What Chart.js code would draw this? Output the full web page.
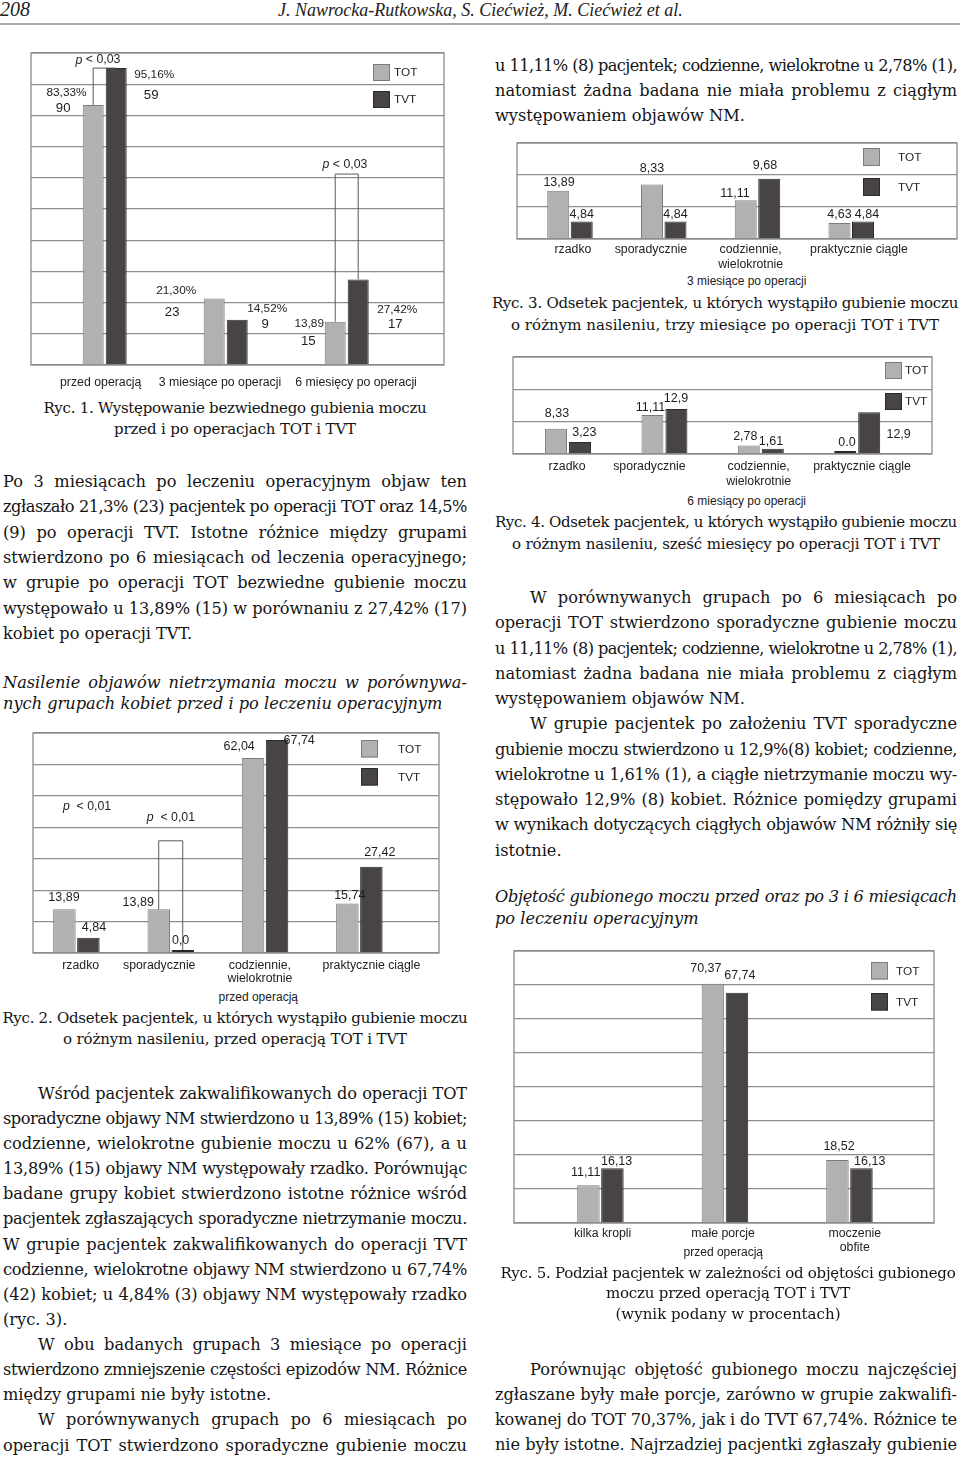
<!DOCTYPE html>
<html lang="pl">
<head>
<meta charset="utf-8">
<title>Ryc. 1-5</title>
<script src="https://cdn.jsdelivr.net/npm/chart.js@4.4.1/dist/chart.umd.min.js"></script>
<style>
body{margin:0;width:960px;height:1457px;position:relative;overflow:hidden;background:#fff;color:#141414}
.hdr{position:absolute;font-family:"Liberation Serif",serif;font-style:italic;line-height:20px;white-space:nowrap;color:#222}
.rule{position:absolute;left:0;top:23px;width:960px;height:2px;background:#a9a9a9}
.blk{position:absolute;font-family:"DejaVu Serif",serif;font-size:16.2px}
.blk div{box-sizing:border-box;white-space:normal}
.j{text-align:justify;text-align-last:justify}
.ind{padding-left:35px}
.it{font-style:italic}
.cap{position:absolute;font-family:"DejaVu Serif",serif;font-size:15px;text-align:center}
.sub{position:absolute;width:200px;text-align:center;font:12px/14px "Liberation Sans",Arial,sans-serif;color:#222;white-space:nowrap}
.cw{position:absolute}
</style>
</head>
<body>

<div class="hdr" style="left:0;top:-1px;font-size:20px">208</div>
<div class="hdr" style="left:278px;top:0;font-size:18px">J. Nawrocka-Rutkowska, S. Ciećwież, M. Ciećwież et al.</div>
<div class="rule"></div>

<div class="cw" id="w1"><canvas id="ryc1"></canvas></div>
<div class="cw" id="w3"><canvas id="ryc3"></canvas></div>
<div class="cw" id="w4"><canvas id="ryc4"></canvas></div>
<div class="cw" id="w2"><canvas id="ryc2"></canvas></div>
<div class="cw" id="w5"><canvas id="ryc5"></canvas></div>

<div class="sub" style="left:646.7px;top:273.7px">3 miesiące po operacji</div>
<div class="sub" style="left:646.7px;top:493.7px">6 miesiący po operacji</div>
<div class="sub" style="left:158.3px;top:989.7px">przed operacją</div>
<div class="sub" style="left:623.3px;top:1244.7px">przed operacją</div>

<!-- prawa kolumna, góra -->
<div class="blk" style="left:495px;top:52.5px;width:462px;line-height:25px">
  <div class="j">u 11,11% (8) pacjentek; codzienne, wielokrotne u 2,78% (1),</div>
  <div class="j">natomiast żadna badana nie miała problemu z ciągłym</div>
  <div>występowaniem objawów NM.</div>
</div>

<div class="cap" style="left:0;top:397.5px;width:470px;line-height:21.7px">
  <div data-w="383">Ryc. 1. Występowanie bezwiednego gubienia moczu</div>
  <div data-w="242">przed i po operacjach TOT i TVT</div>
</div>

<div class="cap" style="left:490px;top:292px;width:470px;line-height:22.3px">
  <div data-w="466">Ryc. 3. Odsetek pacjentek, u których wystąpiło gubienie moczu</div>
  <div data-w="428">o różnym nasileniu, trzy miesiące po operacji TOT i TVT</div>
</div>

<div class="cap" style="left:491px;top:511.3px;width:470px;line-height:22px">
  <div data-w="462">Ryc. 4. Odsetek pacjentek, u których wystąpiło gubienie moczu</div>
  <div data-w="428">o różnym nasileniu, sześć miesięcy po operacji TOT i TVT</div>
</div>

<div class="blk" style="left:3px;top:469.2px;width:464px;line-height:25.27px">
  <div class="j">Po 3 miesiącach po leczeniu operacyjnym objaw ten</div>
  <div class="j">zgłaszało 21,3% (23) pacjentek po operacji TOT oraz 14,5%</div>
  <div class="j">(9) po operacji TVT. Istotne różnice między grupami</div>
  <div class="j">stwierdzono po 6 miesiącach od leczenia operacyjnego;</div>
  <div class="j">w grupie po operacji TOT bezwiedne gubienie moczu</div>
  <div class="j">występowało u 13,89% (15) w porównaniu z 27,42% (17)</div>
  <div>kobiet po operacji TVT.</div>
</div>

<div class="blk it" style="left:3px;top:671.5px;width:464px;line-height:21px">
  <div class="j">Nasilenie objawów nietrzymania moczu w porównywa-</div>
  <div>nych grupach kobiet przed i po leczeniu operacyjnym</div>
</div>

<div class="blk" style="left:495px;top:585.2px;width:462px;line-height:25.23px">
  <div class="j ind">W porównywanych grupach po 6 miesiącach po</div>
  <div class="j">operacji TOT stwierdzono sporadyczne gubienie moczu</div>
  <div class="j">u 11,11% (8) pacjentek; codzienne, wielokrotne u 2,78% (1),</div>
  <div class="j">natomiast żadna badana nie miała problemu z ciągłym</div>
  <div>występowaniem objawów NM.</div>
  <div class="j ind">W grupie pacjentek po założeniu TVT sporadyczne</div>
  <div class="j">gubienie moczu stwierdzono u 12,9%(8) kobiet; codzienne,</div>
  <div class="j">wielokrotne u 1,61% (1), a ciągłe nietrzymanie moczu wy-</div>
  <div class="j">stępowało 12,9% (8) kobiet. Różnice pomiędzy grupami</div>
  <div class="j">w wynikach dotyczących ciągłych objawów NM różniły się</div>
  <div>istotnie.</div>
</div>

<div class="blk it" style="left:495px;top:886px;width:462px;line-height:22.3px">
  <div class="j">Objętość gubionego moczu przed oraz po 3 i 6 miesiącach</div>
  <div>po leczeniu operacyjnym</div>
</div>

<div class="cap" style="left:0;top:1008.3px;width:470px;line-height:21px">
  <div data-w="465">Ryc. 2. Odsetek pacjentek, u których wystąpiło gubienie moczu</div>
  <div data-w="344">o różnym nasileniu, przed operacją TOT i TVT</div>
</div>

<div class="blk" style="left:3px;top:1080.8px;width:464px;line-height:25.12px">
  <div class="j ind">Wśród pacjentek zakwalifikowanych do operacji TOT</div>
  <div class="j">sporadyczne objawy NM stwierdzono u 13,89% (15) kobiet;</div>
  <div class="j">codzienne, wielokrotne gubienie moczu u 62% (67), a u</div>
  <div class="j">13,89% (15) objawy NM występowały rzadko. Porównując</div>
  <div class="j">badane grupy kobiet stwierdzono istotne różnice wśród</div>
  <div class="j">pacjentek zgłaszających sporadyczne nietrzymanie moczu.</div>
  <div class="j">W grupie pacjentek zakwalifikowanych do operacji TVT</div>
  <div class="j">codzienne, wielokrotne objawy NM stwierdzono u 67,74%</div>
  <div class="j">(42) kobiet; u 4,84% (3) objawy NM występowały rzadko</div>
  <div>(ryc. 3).</div>
  <div class="j ind">W obu badanych grupach 3 miesiące po operacji</div>
  <div class="j">stwierdzono zmniejszenie częstości epizodów NM. Różnice</div>
  <div>między grupami nie były istotne.</div>
  <div class="j ind">W porównywanych grupach po 6 miesiącach po</div>
  <div class="j">operacji TOT stwierdzono sporadyczne gubienie moczu</div>
</div>

<div class="cap" style="left:493px;top:1262.5px;width:470px;line-height:20.5px">
  <div data-w="455">Ryc. 5. Podział pacjentek w zależności od objętości gubionego</div>
  <div data-w="244">moczu przed operacją TOT i TVT</div>
  <div data-w="225">(wynik podany w procentach)</div>
</div>

<div class="blk" style="left:495px;top:1356.8px;width:462px;line-height:25px">
  <div class="j ind">Porównując objętość gubionego moczu najczęściej</div>
  <div class="j">zgłaszane były małe porcje, zarówno w grupie zakwalifi-</div>
  <div class="j">kowanej do TOT 70,37%, jak i do TVT 67,74%. Różnice te</div>
  <div class="j">nie były istotne. Najrzadziej pacjentki zgłaszały gubienie</div>
</div>

<script>
// Ryc. 1 - bezwiedne gubienie moczu, % pacjentek
var r1Cats = ['przed operacją', '3 miesiące po operacji', '6 miesięcy po operacji'];
var r1Tot = [83.33, 21.30, 13.89];
var r1Tvt = [95.16, 14.52, 27.42];
var r1TotPct = ['83,33%', '21,30%', '13,89'];
var r1TotN = ['90', '23', '15'];
var r1TvtPct = ['95,16%', '14,52%', '27,42%'];
var r1TvtN = ['59', '9', '17'];

// Ryc. 2 - nasilenie przed operacja
var sevCats = ['rzadko', 'sporadycznie', ['codziennie,', 'wielokrotnie'], 'praktycznie ciągle'];
var r2Tot = [13.89, 13.89, 62.04, 15.74];
var r2Tvt = [4.84, 0, 67.74, 27.42];
var r2TotTxt = ['13,89', '13,89', '62,04', '15,74'];
var r2TvtTxt = ['4,84', '0,0', '67,74', '27,42'];

// Ryc. 3 - 3 miesiace po operacji (wysokosc slupkow jak na rysunku)
var r3Tot = [15.1, 17.0, 12.1, 5.0];
var r3Tvt = [5.5, 5.5, 18.8, 5.5];
var r3TotTxt = ['13,89', '8,33', '11,11', '4,63'];
var r3TvtTxt = ['4,84', '4,84', '9,68', '4,84'];

// Ryc. 4 - 6 miesiecy po operacji
var r4Tot = [7.8, 12.1, 2.6, 0];
var r4Tvt = [3.7, 13.9, 1.6, 12.9];
var r4TotTxt = ['8,33', '11,11', '2,78', '0.0'];
var r4TvtTxt = ['3,23', '12,9', '1,61', '12,9'];

// Ryc. 5 - objetosc gubionego moczu
var r5Cats = ['kilka kropli', 'małe porcje', ['moczenie', 'obfite']];
var r5Tot = [11.11, 70.37, 18.52];
var r5Tvt = [16.13, 67.74, 16.13];
var r5TotTxt = ['11,11', '70,37', '18,52'];
var r5TvtTxt = ['16,13', '67,74', '16,13'];

var FILL = ['#b1b1b1', '#484444'];
var LINE = ['#7b7b7b', '#2b2b2b'];
var FONT = '"Liberation Sans", Arial, sans-serif';

Chart.defaults.font.family = FONT;
Chart.defaults.color = '#222';

// layout of each figure (page px) + label placement
var figs = {
  ryc1: {
    cats: r1Cats, tot: r1Tot, tvt: r1Tvt, ymax: 100,
    box: [31, 53, 444, 365], xr: [-0.609, 2.804], bar: [21, 2], axisH: 30,
    tickY: 382.5, tickLH: 14, tickDx: [-4, -5.7, 9.3],
    labels: [
      {ds: 0, text: r1TotPct, size: 11.8, shift: [[-26.7, -12], [-38, -7.5], [-26, 2.3]]},
      {ds: 0, text: r1TotN, size: 13.2, shift: [[-30, 3], [-42, 13.5], [-27, 20]]},
      {ds: 1, text: r1TvtPct, size: 11.8, shift: [[38, 7], [30, -10.7], [39, 30.6]]},
      {ds: 1, text: r1TvtN, size: 13.2, shift: [[35, 27], [28, 4.3], [37, 44.6]]}
    ],
    legend: {x: 373, ys: [64, 91], tx: 394, h: 17},
    notes: [
      {i: 0, level: 95.16, text: ' < 0,03', dx: -6.7, dy: -8, bracket: true},
      {i: 2, level: 61.2, text: ' < 0,03', dx: -1.7, dy: -9, bracket: true}
    ]
  },
  ryc3: {
    cats: sevCats, tot: r3Tot, tvt: r3Tvt, ymax: 30,
    box: [517, 143, 957, 239], xr: [-0.565, 4.128], bar: [22, 1.5], axisH: 34,
    tickY: 249.5, tickLH: 15, tickDx: [3, -12.8, -6.8, 7.7],
    labels: [
      {ds: 0, text: r3TotTxt, shift: [[0.8, -8.3], [0, -15.6], [-10.8, -6.6], [0, -8.3]]},
      {ds: 1, text: r3TvtTxt, shift: [[0, -6.7], [0, -6.7], [-4.3, -13.1], [4, -6.7]]}
    ],
    legend: {x: 863, ys: [148, 178], tx: 898, h: 18},
    notes: []
  },
  ryc4: {
    cats: sevCats, tot: r4Tot, tvt: r4Tvt, ymax: 30,
    box: [513, 357, 932, 454], xr: [-0.571, 3.776], bar: [22, 2], axisH: 36,
    tickY: 466.2, tickLH: 15, tickDx: [-1, -15, -2.2, 4.8],
    labels: [
      {ds: 0, text: r4TotTxt, shift: [[1, -15.6], [-2, -7.2], [-3.5, -9.1], [1.8, -8.5]]},
      {ds: 1, text: r4TvtTxt, shift: [[4.3, -9.6], [-0.4, -10.8], [-1.8, -6.8], [29.4, 22]]}
    ],
    legend: {x: 885, ys: [362, 393], tx: 905, h: 17},
    notes: []
  },
  ryc2: {
    cats: sevCats, tot: r2Tot, tvt: r2Tvt, ymax: 70,
    box: [33, 733, 439, 953], xr: [-0.46, 3.844], bar: [22.5, 1.5], axisH: 36,
    tickY: 965.5, tickLH: 13.3, tickDx: [4.3, -11.5, -5.2, 12.1],
    labels: [
      {ds: 0, text: r2TotTxt, shift: [[-0.4, -12.2], [-20.5, -7.2], [-13.9, -11.8], [2.4, -8]]},
      {ds: 1, text: r2TvtTxt, shift: [[5.6, -10.3], [-2.1, -9.5], [22.1, 0.9], [8.4, -14.2]]}
    ],
    legend: {x: 361, ys: [740, 768], tx: 398, h: 17.5},
    notes: [
      {i: 0, level: 46.7, text: '  < 0,01', dx: 10.6, dy: 0, bracket: false},
      {i: 1, level: 35.7, text: '  < 0,01', dx: 0.2, dy: -23, bracket: true}
    ]
  },
  ryc5: {
    cats: r5Cats, tot: r5Tot, tvt: r5Tvt, ymax: 80,
    box: [514, 951, 934, 1223], xr: [-0.694, 2.679], bar: [22.5, 1.5], axisH: 34,
    tickY: 1233.5, tickLH: 14.3, tickDx: [2.2, -1.8, 5.3],
    labels: [
      {ds: 0, text: r5TotTxt, shift: [[-2.8, -12.8], [-7.1, -15.5], [1.6, -13.6]]},
      {ds: 1, text: r5TvtTxt, shift: [[4.2, -6.7], [2.9, -16.7], [8.3, -6.7]]}
    ],
    legend: {x: 871, ys: [962, 993], tx: 896, h: 17.5},
    notes: []
  }
};

function buildChart(id, c) {
  var PL = 40, PR = 20, PT = 10;
  var canvas = document.getElementById(id);
  var wrap = canvas.parentNode;
  var ox = c.box[0] - PL, oy = c.box[1] - PT;
  wrap.style.left = ox + 'px';
  wrap.style.top = oy + 'px';
  wrap.style.width = (c.box[2] - c.box[0] + PL + PR) + 'px';
  wrap.style.height = (c.box[3] - c.box[1] + PT + c.axisH) + 'px';

  // bar width from the pixel distance between two categories
  var spacing = (c.box[2] - c.box[0]) / (c.xr[1] - c.xr[0]);
  var chunk = c.bar[0] + c.bar[1];

  function ds(label, values, k) {
    return {
      label: label,
      data: values,
      backgroundColor: function (ctx) { return ctx.raw === 0 ? '#262626' : FILL[k]; },
      borderColor: function (ctx) { return ctx.raw === 0 ? '#262626' : LINE[k]; },
      borderWidth: 1,
      minBarLength: 3,
      categoryPercentage: 2 * chunk / spacing,
      barPercentage: c.bar[0] / chunk
    };
  }

  var extras = {
    id: 'extras',
    afterDraw: function (chart) {
      var ctx = chart.ctx, a = chart.chartArea, xs = chart.scales.x;
      ctx.save();
      // frame round the plot
      ctx.strokeStyle = '#8a8a8a';
      ctx.lineWidth = 1.3;
      ctx.strokeRect(a.left, a.top, a.right - a.left, a.bottom - a.top);

      // category names under each group
      ctx.fillStyle = '#222';
      ctx.textAlign = 'center';
      ctx.textBaseline = 'middle';
      ctx.font = '12.3px ' + FONT;
      c.cats.forEach(function (name, i) {
        var lines = [].concat(name);
        var x = xs.getPixelForValue(i) + c.tickDx[i];
        lines.forEach(function (t, k) {
          ctx.fillText(t, x, c.tickY - oy + k * c.tickLH);
        });
      });

      // value labels
      ctx.fillStyle = '#1e1e1e';
      c.labels.forEach(function (l) {
        var meta = chart.getDatasetMeta(l.ds);
        ctx.font = (l.size || 12.5) + 'px ' + FONT;
        l.text.forEach(function (t, j) {
          var bar = meta.data[j];
          var s = (l.shift && l.shift[j]) || [0, -8];
          ctx.fillText(t, bar.x + s[0], bar.y + s[1]);
        });
      });

      // legend
      var lg = c.legend;
      ctx.textAlign = 'left';
      ctx.font = '11.8px ' + FONT;
      chart.data.datasets.forEach(function (d, k) {
        var x = lg.x - ox, y = lg.ys[k] - oy;
        ctx.fillStyle = FILL[k];
        ctx.fillRect(x, y, 17, lg.h);
        ctx.strokeStyle = LINE[k];
        ctx.lineWidth = 1;
        ctx.strokeRect(x + 0.5, y + 0.5, 16, lg.h - 1);
        ctx.fillStyle = '#1e1e1e';
        ctx.fillText(d.label, lg.tx - ox, y + lg.h / 2 + 0.5);
      });

      // p-values with brackets
      c.notes.forEach(function (n) {
        var ly = chart.scales.y.getPixelForValue(n.level);
        var cx = xs.getPixelForValue(n.i);
        if (n.bracket) {
          var b0 = chart.getDatasetMeta(0).data[n.i], b1 = chart.getDatasetMeta(1).data[n.i];
          ctx.strokeStyle = '#5a5a5a';
          ctx.lineWidth = 1;
          ctx.beginPath();
          ctx.moveTo(b0.x, b0.y);
          ctx.lineTo(b0.x, ly);
          ctx.lineTo(b1.x, ly);
          ctx.lineTo(b1.x, b1.y);
          ctx.stroke();
        }
        ctx.font = 'italic 12.3px ' + FONT;
        var wp = ctx.measureText('p').width;
        ctx.font = '12.3px ' + FONT;
        var wr = ctx.measureText(n.text).width;
        var sx = cx + n.dx - (wp + wr) / 2, ty = ly + n.dy;
        ctx.fillStyle = '#1e1e1e';
        ctx.font = 'italic 12.3px ' + FONT;
        ctx.fillText('p', sx, ty);
        ctx.font = '12.3px ' + FONT;
        ctx.fillText(n.text, sx + wp, ty);
      });
      ctx.restore();
    }
  };

  return new Chart(canvas, {
    type: 'bar',
    data: {
      labels: c.cats.map(function (n, i) { return i; }),
      datasets: [ds('TOT', c.tot, 0), ds('TVT', c.tvt, 1)]
    },
    options: {
      responsive: true,
      maintainAspectRatio: false,
      animation: false,
      layout: {padding: {left: PL, right: PR, top: PT, bottom: 0}},
      plugins: {legend: {display: false}, tooltip: {enabled: false}},
      scales: {
        x: {
          type: 'linear', min: c.xr[0], max: c.xr[1], offset: false,
          grid: {display: false, drawTicks: false},
          border: {display: false},
          afterBuildTicks: function (s) { s.ticks = c.cats.map(function (n, i) { return {value: i}; }); },
          afterFit: function (s) { s.height = c.axisH; },
          ticks: {display: false}
        },
        y: {
          min: 0, max: c.ymax,
          ticks: {display: false, stepSize: 10},
          grid: {color: '#8e8e8e', lineWidth: 1.2, drawTicks: false},
          border: {display: false}
        }
      }
    },
    plugins: [extras]
  });
}

// squeeze / stretch text lines so that they keep the printed line breaks
function fitLine(el) {
  var probe = el.cloneNode(true);
  probe.classList.remove('j', 'ind');
  probe.removeAttribute('data-w');
  probe.style.cssText = 'position:absolute;visibility:hidden;white-space:nowrap;left:0;top:0;width:auto;padding:0';
  el.parentNode.appendChild(probe);
  var natural = probe.getBoundingClientRect().width;
  probe.remove();
  var pad = el.classList.contains('ind') ? 35 : 0;
  var n = el.textContent.trim().length;
  var ls;
  if (el.dataset.w) {
    ls = (+el.dataset.w - natural) / n;
  } else {
    ls = Math.min(0, (el.getBoundingClientRect().width - pad - 1.5 - natural) / n);
  }
  ls = Math.max(-2, Math.min(1.5, ls));
  if (ls !== 0) el.style.letterSpacing = ls.toFixed(2) + 'px';
}

document.querySelectorAll('.blk > div, .cap > div').forEach(fitLine);

Object.keys(figs).forEach(function (id) { buildChart(id, figs[id]); });
</script>
</body>
</html>
